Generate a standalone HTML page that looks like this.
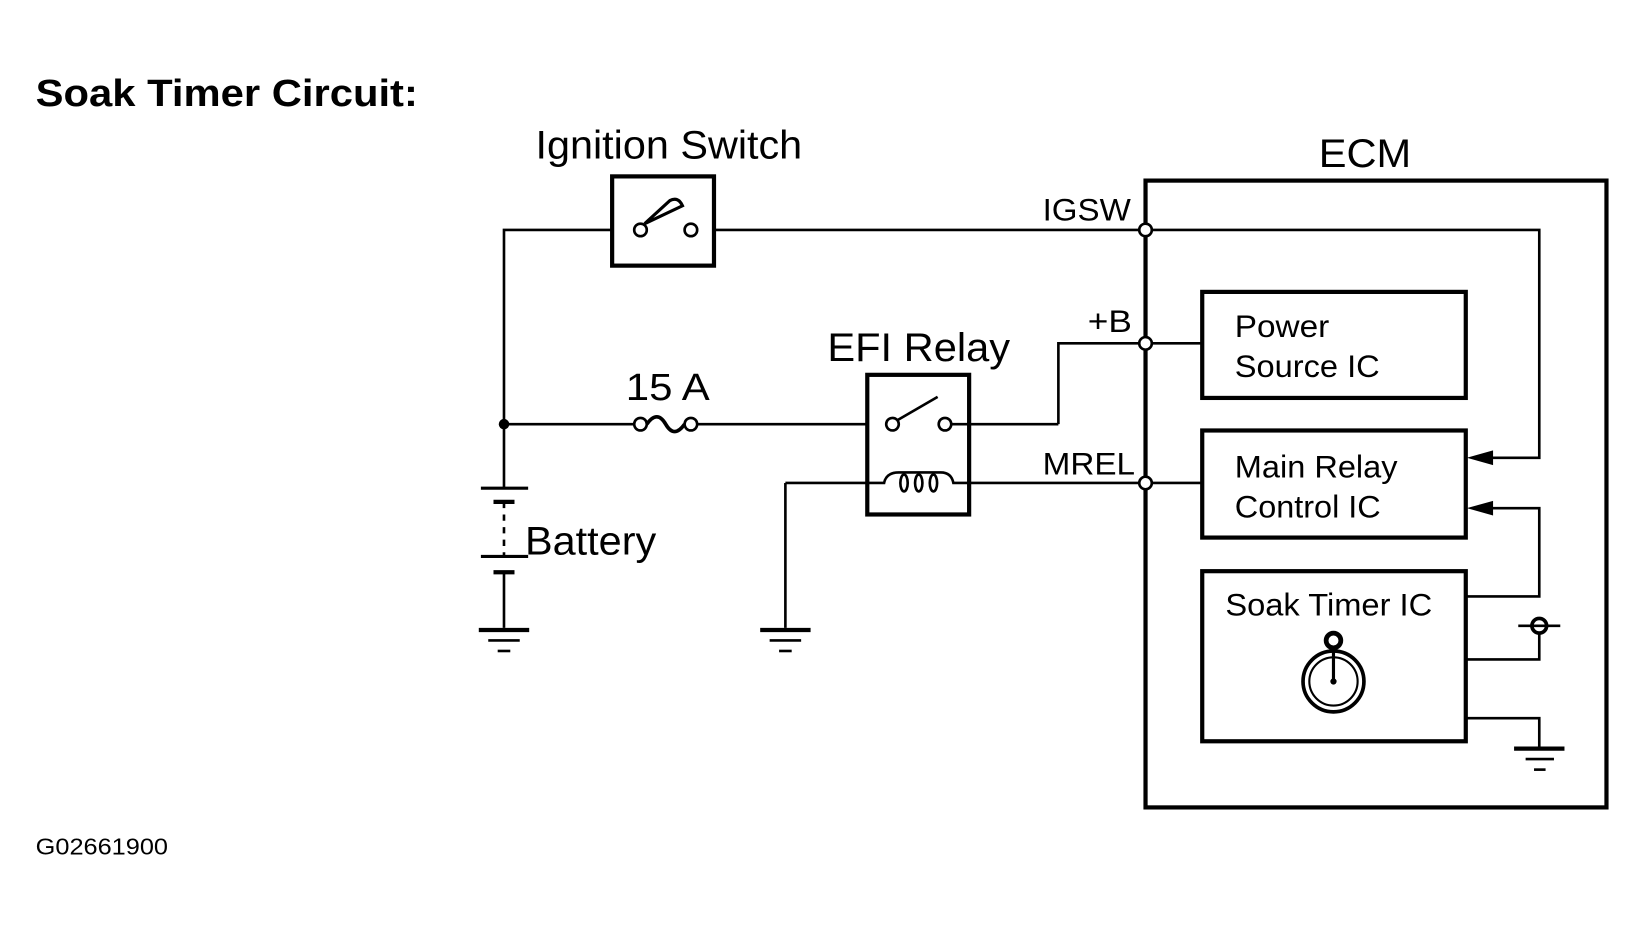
<!DOCTYPE html>
<html><head><meta charset="utf-8"><style>
html,body{margin:0;padding:0;background:#fff;}
svg{display:block;}
text{font-family:"Liberation Sans",Arial,sans-serif;fill:#000;}
</style></head><body>
<svg width="1647" height="931" viewBox="0 0 1568.6 886.7" preserveAspectRatio="none" xmlns="http://www.w3.org/2000/svg">
<g fill="none" stroke="#000" stroke-width="2.5">
<polyline points="480,465 480,219 583,219"/>
<line x1="680" y1="219" x2="1091" y2="219"/>
<rect x="583" y="168" width="97" height="85" stroke-width="4"/>
<circle cx="610" cy="219" r="6"/>
<circle cx="658" cy="219" r="6"/>
<path d="M614,213 L638,191 Q646,187 650,196 Z" stroke-width="3"/>
<line x1="480" y1="404" x2="604" y2="404"/>
<circle cx="610" cy="404" r="6"/>
<circle cx="658" cy="404" r="6"/>
<path d="M616,404 Q626,390 634,404 Q642,418 652,404" stroke-width="3.5"/>
<line x1="664" y1="404" x2="826" y2="404"/>
<rect x="826" y="357" width="97" height="133" stroke-width="4"/>
<circle cx="850" cy="404" r="6"/>
<circle cx="900" cy="404" r="6"/>
<line x1="855" y1="400" x2="893" y2="378"/>
<line x1="906" y1="404" x2="1008" y2="404"/>
<polyline points="1008,404 1008,327 1091,327"/>
<line x1="826" y1="460" x2="748" y2="460"/>
<line x1="748" y1="460" x2="748" y2="598"/>
<path d="M826,460 h16 q2,-10 14,-10 h40 q10,0 12,10 h15"/>
<ellipse cx="861" cy="460" rx="3.5" ry="8"/>
<ellipse cx="875" cy="460" rx="3.5" ry="8"/>
<ellipse cx="889" cy="460" rx="3.5" ry="8"/>
<line x1="923" y1="460" x2="1091" y2="460"/>
<line x1="458" y1="465" x2="503" y2="465" stroke-width="3"/>
<line x1="470" y1="478" x2="490" y2="478" stroke-width="4"/>
<line x1="480" y1="478" x2="480" y2="530" stroke-dasharray="6,6"/>
<line x1="458" y1="530" x2="503" y2="530" stroke-width="3"/>
<line x1="470" y1="545" x2="490" y2="545" stroke-width="4"/>
<line x1="480" y1="545" x2="480" y2="598"/>
<line x1="456" y1="600" x2="504" y2="600" stroke-width="4"/>
<line x1="465" y1="610" x2="495" y2="610"/>
<line x1="474" y1="620" x2="486" y2="620"/>
<line x1="724" y1="600" x2="772" y2="600" stroke-width="4"/>
<line x1="733" y1="610" x2="763" y2="610"/>
<line x1="742" y1="620" x2="754" y2="620"/>
<rect x="1091" y="172" width="439" height="597" stroke-width="4"/>
<rect x="1145" y="278" width="251" height="101" stroke-width="4"/>
<rect x="1145" y="410" width="251" height="102" stroke-width="4"/>
<rect x="1145" y="544" width="251" height="162" stroke-width="4"/>
<line x1="1097" y1="327" x2="1145" y2="327"/>
<line x1="1097" y1="460" x2="1145" y2="460"/>
<polyline points="1097,219 1466,219 1466,436 1420,436"/>
<polyline points="1396,568 1466,568 1466,484 1420,484"/>
<polyline points="1396,628 1466,628 1466,602"/>
<circle cx="1466" cy="596" r="7" stroke-width="3.5"/>
<line x1="1446" y1="596" x2="1486" y2="596"/>
<polyline points="1396,684 1466,684 1466,712"/>
<line x1="1442" y1="713" x2="1490" y2="713" stroke-width="4"/>
<line x1="1453" y1="723" x2="1480" y2="723"/>
<line x1="1461" y1="733" x2="1472" y2="733"/>
<circle cx="1270" cy="649" r="29" stroke-width="3.5"/>
<circle cx="1270" cy="649" r="23" stroke-width="2"/>
<circle cx="1270" cy="610" r="7" stroke-width="4.5"/>
<line x1="1270" y1="617" x2="1270" y2="648" stroke-width="3"/>
</g>
<g fill="#fff" stroke="#000" stroke-width="2.5">
<circle cx="1091" cy="219" r="6"/>
<circle cx="1091" cy="327" r="6"/>
<circle cx="1091" cy="460" r="6"/>
</g>
<circle cx="480" cy="404" r="5" fill="#000"/>
<circle cx="1270" cy="649" r="3" fill="#000"/>
<polygon points="1397,436 1422,429 1422,443" fill="#000"/>
<polygon points="1397,484 1422,477 1422,491" fill="#000"/>
<text x="34" y="101" font-size="36" font-weight="bold" textLength="364" lengthAdjust="spacingAndGlyphs">Soak Timer Circuit:</text>
<text x="510" y="151" font-size="38" textLength="254" lengthAdjust="spacingAndGlyphs">Ignition Switch</text>
<text x="1256" y="159" font-size="38" textLength="88" lengthAdjust="spacingAndGlyphs">ECM</text>
<text x="993" y="210" font-size="30" textLength="84" lengthAdjust="spacingAndGlyphs">IGSW</text>
<text x="1036" y="316" font-size="30" textLength="42" lengthAdjust="spacingAndGlyphs">+B</text>
<text x="788" y="344" font-size="38" textLength="174" lengthAdjust="spacingAndGlyphs">EFI Relay</text>
<text x="596" y="381" font-size="36" textLength="80" lengthAdjust="spacingAndGlyphs">15 A</text>
<text x="993" y="452" font-size="30" textLength="88" lengthAdjust="spacingAndGlyphs">MREL</text>
<text x="500" y="528" font-size="38" textLength="125" lengthAdjust="spacingAndGlyphs">Battery</text>
<text x="1176" y="321" font-size="30" textLength="90" lengthAdjust="spacingAndGlyphs">Power</text>
<text x="1176" y="359" font-size="30" textLength="138" lengthAdjust="spacingAndGlyphs">Source IC</text>
<text x="1176" y="455" font-size="30" textLength="155" lengthAdjust="spacingAndGlyphs">Main Relay</text>
<text x="1176" y="493" font-size="30" textLength="139" lengthAdjust="spacingAndGlyphs">Control IC</text>
<text x="1167" y="586" font-size="30" textLength="197" lengthAdjust="spacingAndGlyphs">Soak Timer IC</text>
<text x="34" y="814" font-size="22" textLength="126" lengthAdjust="spacingAndGlyphs">G02661900</text>
</svg>
</body></html>
